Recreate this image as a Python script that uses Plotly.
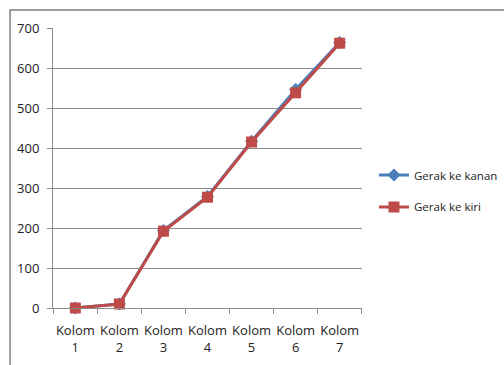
import plotly.graph_objects as go

categories = ["Kolom<br>1", "Kolom<br>2", "Kolom<br>3", "Kolom<br>4", "Kolom<br>5", "Kolom<br>6", "Kolom<br>7"]
gerak_kanan = [0, 10, 194, 279, 417, 546, 664]
gerak_kiri = [0, 10, 192, 277, 415, 538, 662]
y_ticks = [0, 100, 200, 300, 400, 500, 600, 700]

BLUE = "#4A7EBB"
RED = "#BE4B48"
GRID = "#8C8C8C"
FAMILY = "Open Sans, Noto Sans, sans-serif"
TICK_FONT = dict(family=FAMILY, size=13, color="#222222")
LEGEND_FONT = dict(family=FAMILY, size=11.5, color="#222222")

fig = go.Figure()
fig.add_trace(go.Scatter(
    x=categories, y=gerak_kanan, name="Gerak ke kanan", mode="lines+markers",
    line=dict(color=BLUE, width=3),
    marker=dict(symbol="diamond", size=10, color=BLUE),
    cliponaxis=False, legend="legend", showlegend=True,
))
fig.add_trace(go.Scatter(
    x=categories, y=gerak_kiri, name="Gerak ke kiri", mode="lines+markers",
    line=dict(color=RED, width=3),
    marker=dict(symbol="square", size=11, color=RED),
    cliponaxis=False, legend="legend2", showlegend=True,
))

legend_style = dict(xref="container", yref="container", xanchor="left", yanchor="middle",
                    visible=True, bgcolor="rgba(0,0,0,0)", font=LEGEND_FONT, itemwidth=30)

fig.update_layout(
    width=504, height=365,
    margin=dict(l=53, r=142, t=28, b=57, autoexpand=False),
    paper_bgcolor="white", plot_bgcolor="white",
    font=TICK_FONT,
    showlegend=True,
    legend=dict(x=0.742, y=0.5205, **legend_style),
    legend2=dict(x=0.742, y=0.433, **legend_style),
    xaxis=dict(
        type="category", showgrid=False, showline=True, linecolor=GRID, linewidth=1,
        ticks="outside", tickson="boundaries", ticklen=5, tickcolor=GRID,
        tickfont=TICK_FONT, tickangle=0, ticklabelstandoff=10,
    ),
    yaxis=dict(
        range=[0, 700], tickvals=y_ticks, showgrid=True, gridcolor=GRID, gridwidth=1,
        showline=True, linecolor=GRID, linewidth=1, zeroline=False,
        ticks="outside", ticklen=5, tickcolor=GRID, tickfont=TICK_FONT, ticklabelstandoff=5,
    ),
    shapes=[dict(
        type="rect", xref="paper", yref="paper",
        x0=-0.139, y0=-1.0, x1=2.0, y1=1.064,
        line=dict(color="#7F7F7F", width=1.5), fillcolor="rgba(0,0,0,0)",
        layer="below",
    )],
)

fig.write_html("out.html")
